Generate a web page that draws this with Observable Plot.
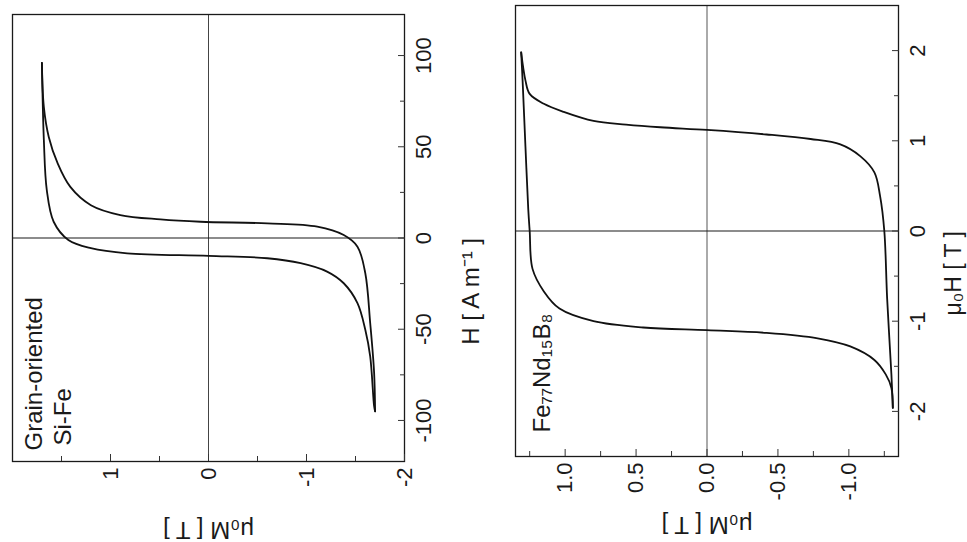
<!DOCTYPE html>
<html><head><meta charset="utf-8">
<script src="https://cdn.jsdelivr.net/npm/d3@7"></script>
<script src="https://cdn.jsdelivr.net/npm/@observablehq/plot@0.6"></script>
<style>
html,body{margin:0;padding:0;background:#fff;}
#wrap{position:relative;width:967px;height:542px;overflow:hidden;background:#fff;}
#wrap > div{position:absolute;top:0;}
</style></head>
<body><div id="wrap"><div id="left" style="left:0"></div><div id="right" style="left:480px"></div></div>
<script>
// ---- Grain-oriented Si-Fe (H in A/m, mu0M in T) ----
const siFeDescH = [96, 53.6, 26.2, 8.9, -1.1, -5.6, -8.4, -9.8, -11.1, -13.8, -18.4, -24.8, -35.7, -50.3, -64.9, -92.2, -95];
const siFeDescM = [1.70, 1.68, 1.65, 1.58, 1.43, 1.20, 0.83, 0.0, -0.60, -0.94, -1.21, -1.38, -1.52, -1.60, -1.65, -1.69, -1.70];
const siFeAscH  = [-95, -73.9, -46.6, -19.3, -4.75, 1.6, 6.2, 8.0, 8.9, 10.2, 12.6, 18, 28, 41, 55.4, 71.7, 96];
const siFeAscM  = [-1.70, -1.69, -1.65, -1.60, -1.52, -1.38, -1.11, -0.60, 0.08, 0.49, 0.90, 1.20, 1.41, 1.54, 1.63, 1.68, 1.70];

// ---- Fe77Nd15B8 (mu0H in T, mu0M in T) ----
const ndDescH = [1.98, 1.67, 0.94, 0.24, 0.0, -0.42, -0.67, -0.86, -1.00, -1.07, -1.10, -1.13, -1.19, -1.28, -1.43, -1.59, -1.74, -1.96];
const ndDescM = [1.31, 1.30, 1.28, 1.26, 1.25, 1.23, 1.15, 1.04, 0.80, 0.45, 0.0, -0.42, -0.78, -1.01, -1.18, -1.26, -1.30, -1.31];
const ndAscH  = [-1.96, -1.59, -0.75, 0.0, 0.39, 0.65, 0.83, 0.96, 1.02, 1.07, 1.12, 1.15, 1.18, 1.22, 1.32, 1.41, 1.52, 1.67, 1.98];
const ndAscM  = [-1.31, -1.30, -1.27, -1.25, -1.22, -1.18, -1.08, -0.94, -0.73, -0.42, 0.0, 0.33, 0.57, 0.80, 1.01, 1.15, 1.25, 1.28, 1.31];

// ---- Axis ticks ----
const siFeMTicks = [1, 0, -1, -2];
const siFeMMinor = [1.5, 0.5, -0.5, -1.5];
const siFeHTicks = [-100, -50, 0, 50, 100];
const siFeHMinor = [-75, -25, 25, 75];
const ndMTicks = [1.0, 0.5, 0.0, -0.5, -1.0];
const ndMMinor = [1.25, 0.75, 0.25, -0.25, -0.75, -1.25];
const ndHTicks = [-2, -1, 0, 1, 2];
const ndHMinor = [-1.5, -0.5, 0.5, 1.5];

function table(dH, dM, aH, aM) {
  return [
    ...dH.map((h, i) => ({branch: "desc", H: h, M: dM[i]})),
    ...aH.map((h, i) => ({branch: "asc", H: h, M: aM[i]}))
  ];
}

function panel(o) {
  return Plot.plot({
    width: o.width, height: 542,
    marginTop: o.mt, marginLeft: o.ml, marginRight: o.mr, marginBottom: o.mb,
    style: {fontFamily: "'Liberation Sans', Arial, sans-serif", fontSize: "22px", color: "#1a1a1a", background: "transparent", overflow: "visible"},
    x: {domain: o.xDomain, label: null},
    y: {domain: o.yDomain, label: null},
    marks: [
      Plot.ruleX([0], {stroke: o.zeroXColor, strokeWidth: o.zeroXWidth}),
      Plot.ruleY([0], {stroke: "#1a1a1a", strokeWidth: 1.2}),
      Plot.line(o.data, {x: "M", y: "H", z: "branch", curve: "catmull-rom", stroke: "#111", strokeWidth: 1.8}),
      Plot.frame({stroke: "#1a1a1a", strokeWidth: 1.3}),
      Plot.axisX(o.xTicks, {anchor: "bottom", label: null, tickSize: 7, dy: -7, text: null, stroke: "#333"}),
      Plot.axisX(o.xMinor, {anchor: "bottom", label: null, tickSize: 5, dy: -5, text: null, stroke: "#333"}),
      Plot.axisX(o.xTicks, {anchor: "bottom", label: null, tickSize: 0, tickRotate: -90, tickPadding: 6, tickFormat: o.xFmt, fontSize: 22}),
      Plot.axisY(o.yTicks, {anchor: "right", label: null, tickSize: 7, dx: -7, text: null, stroke: "#333"}),
      Plot.axisY(o.yMinor, {anchor: "right", label: null, tickSize: 5, dx: -5, text: null, stroke: "#333"}),
      Plot.axisY(o.yTicks, {anchor: "right", label: null, tickSize: 0, tickRotate: -90, textAnchor: "middle", lineAnchor: "top", tickPadding: 11, tickFormat: o.yFmt, fontSize: 22}),
      Plot.text([o.xLabel], {frameAnchor: "bottom", dy: o.xLabelDy, rotate: 180, fontSize: 24}),
      Plot.text([o.yLabel], {frameAnchor: "right", dx: o.yLabelDx, rotate: -90, fontSize: o.yLabelSize}),
      ...o.notes.map(n => Plot.text([n.text], {frameAnchor: "bottom-left", dx: n.dx, dy: n.dy, rotate: -90, textAnchor: "start", fontSize: 24}))
    ]
  });
}

document.getElementById("left").append(panel({
  width: 500, mt: 14, ml: 12, mr: 96, mb: 81,
  data: table(siFeDescH, siFeDescM, siFeAscH, siFeAscM),
  xDomain: [2, -2], yDomain: [-122.5, 122.5],
  xTicks: siFeMTicks, xMinor: siFeMMinor, yTicks: siFeHTicks, yMinor: siFeHMinor,
  xFmt: d => String(d), yFmt: d => String(d),
  zeroXColor: "#444", zeroXWidth: 1,
  xLabel: "μ₀M [ T ]", xLabelDy: 60,
  yLabel: "H [ A m⁻¹ ]", yLabelDx: 67, yLabelSize: 24,
  notes: [{text: "Grain-oriented", dx: 29, dy: -11}, {text: "Si-Fe", dx: 58, dy: -16}]
}));

document.getElementById("right").append(panel({
  width: 487, mt: 5, ml: 35, mr: 69, mb: 86,
  data: table(ndDescH, ndDescM, ndAscH, ndAscM),
  xDomain: [1.35, -1.35], yDomain: [-2.5, 2.5],
  xTicks: ndMTicks, xMinor: ndMMinor, yTicks: ndHTicks, yMinor: ndHMinor,
  xFmt: d => d.toFixed(1), yFmt: d => String(d),
  zeroXColor: "#aaa", zeroXWidth: 2,
  xLabel: "μ₀M [ T ]", xLabelDy: 60,
  yLabel: "μ₀H [ T ]", yLabelDx: 55, yLabelSize: 23,
  notes: [{text: "Fe₇₇Nd₁₅B₈", dx: 34, dy: -24}]
}));
</script>
</body></html>
